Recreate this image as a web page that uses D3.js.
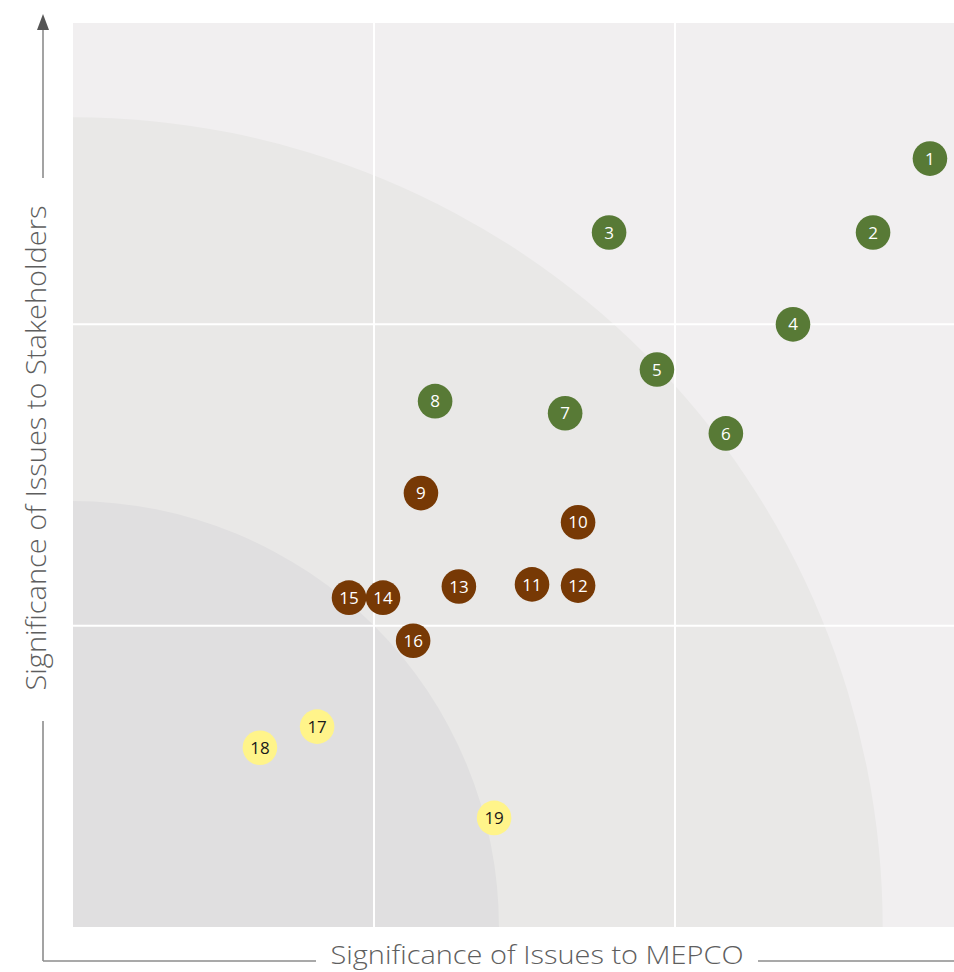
<!DOCTYPE html>
<html>
<head>
<meta charset="utf-8">
<script src="https://cdn.jsdelivr.net/npm/d3@7"></script>
<style>
  html, body { margin: 0; padding: 0; background: #ffffff; }
  svg { display: block; }
</style>
</head>
<body>
<svg id="chart" width="954" height="972"></svg>
<script>
// Materiality matrix: issue numbers positioned by significance to MEPCO (x)
// and significance to stakeholders (y), on a 0–3 scale.
const issueIds = [1, 2, 3, 4, 5, 6, 7, 8, 9, 10, 11, 12, 13, 14, 15, 16, 17, 18, 19];
const mepcoSignificance = [2.847, 2.658, 1.781, 2.392, 1.940, 2.169, 1.635, 1.203, 1.156, 1.678,
                           1.525, 1.678, 1.282, 1.030, 0.917, 1.130, 0.811, 0.621, 1.399];
const stakeholderSignificance = [2.550, 2.305, 2.305, 2.000, 1.850, 1.638, 1.705, 1.745, 1.440, 1.343,
                                 1.137, 1.133, 1.130, 1.093, 1.093, 0.950, 0.665, 0.595, 0.362];
const issueTier = ["high", "high", "high", "high", "high", "high", "high", "high",
                   "medium", "medium", "medium", "medium", "medium", "medium", "medium", "medium",
                   "low", "low", "low"];
const gridTicks = [1, 2];
const zoneRadii = [2.69, 1.415];   // outer and inner quarter-circle bands
const axisTitles = ["Significance of Issues to MEPCO", "Significance of Issues to Stakeholders"];

const tierFill = { high: "#587a36", medium: "#773905", low: "#fff48a" };
const tierText = { high: "#ffffff", medium: "#ffffff", low: "#1a1a1a" };

const svg = d3.select("#chart");
const W = 954, H = 972;
const plot = { left: 73, top: 23, right: 976, bottom: 927 };

const x = d3.scaleLinear().domain([0, 3]).range([plot.left, plot.right]);
const y = d3.scaleLinear().domain([0, 3]).range([plot.bottom, plot.top]);

svg.append("clipPath").attr("id", "plotClip")
  .append("rect")
  .attr("x", plot.left).attr("y", plot.top)
  .attr("width", plot.right - plot.left).attr("height", plot.bottom - plot.top);

const pg = svg.append("g").attr("clip-path", "url(#plotClip)");

// background
pg.append("rect")
  .attr("x", plot.left).attr("y", plot.top)
  .attr("width", plot.right - plot.left).attr("height", plot.bottom - plot.top)
  .attr("fill", "#f1eff0");

// concentric quarter-circle zones anchored at the origin
const zoneFills = ["#e9e8e7", "#e0dfe0"];
zoneRadii.forEach((r, i) => {
  const rp = x(r) - x(0);
  pg.append("circle")
    .attr("cx", x(0)).attr("cy", y(0)).attr("r", rp)
    .attr("fill", zoneFills[i]);
});

// grid
pg.selectAll("line.gx").data(gridTicks).join("line")
  .attr("class", "gx")
  .attr("x1", d => x(d)).attr("x2", d => x(d))
  .attr("y1", plot.top).attr("y2", plot.bottom)
  .attr("stroke", "#ffffff").attr("stroke-width", 2);
pg.selectAll("line.gy").data(gridTicks).join("line")
  .attr("class", "gy")
  .attr("y1", d => y(d)).attr("y2", d => y(d))
  .attr("x1", plot.left).attr("x2", plot.right)
  .attr("stroke", "#ffffff").attr("stroke-width", 2);

// bubbles
const issues = issueIds.map((id, i) => ({
  id, mx: mepcoSignificance[i], sy: stakeholderSignificance[i], tier: issueTier[i]
}));

const bub = svg.append("g").selectAll("g").data(issues).join("g")
  .attr("transform", d => `translate(${x(d.mx)},${y(d.sy)})`);
bub.append("circle")
  .attr("r", 17.3)
  .attr("fill", d => tierFill[d.tier]);
bub.append("text")
  .attr("text-anchor", "middle")
  .attr("dy", "0.36em")
  .attr("font-family", "'Open Sans', 'Noto Sans', sans-serif")
  .attr("font-size", 17)
  .attr("fill", d => tierText[d.tier])
  .text(d => d.id);

// axis frame
const axisColor = "#8c8c8c";
const ax = svg.append("g").attr("stroke", axisColor).attr("stroke-width", 1.6).attr("fill", "none");
const axX = 43, axY = 961;
ax.append("line").attr("x1", axX).attr("x2", axX).attr("y1", 28).attr("y2", 178);
ax.append("line").attr("x1", axX).attr("x2", axX).attr("y1", 721).attr("y2", axY);
ax.append("line").attr("x1", axX).attr("x2", 316).attr("y1", axY).attr("y2", axY);
ax.append("line").attr("x1", 758).attr("x2", W).attr("y1", axY).attr("y2", axY);

svg.append("path")
  .attr("d", `M${axX},14 L${axX - 6},30 L${axX + 6},30 Z`)
  .attr("fill", "#555555");

// axis titles
svg.append("text")
  .attr("x", 537).attr("y", 964)
  .attr("text-anchor", "middle")
  .attr("font-family", "'Open Sans', Lato, sans-serif")
  .attr("font-weight", 300)
  .attr("font-size", 26)
  .attr("fill", "#5e5e5e")
  .attr("textLength", 413)
  .attr("lengthAdjust", "spacingAndGlyphs")
  .text(axisTitles[0]);

svg.append("text")
  .attr("transform", "translate(46,448) rotate(-90)")
  .attr("text-anchor", "middle")
  .attr("font-family", "'Open Sans', Lato, sans-serif")
  .attr("font-weight", 300)
  .attr("font-size", 27)
  .attr("fill", "#5e5e5e")
  .attr("textLength", 485)
  .attr("lengthAdjust", "spacingAndGlyphs")
  .text(axisTitles[1]);
</script>
</body>
</html>
